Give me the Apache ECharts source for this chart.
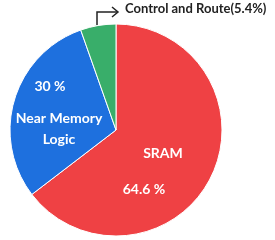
<!DOCTYPE html>
<html><head><meta charset="utf-8">
<script src="https://cdn.jsdelivr.net/npm/echarts@6/dist/echarts.min.js"></script>
<style>html,body{margin:0;padding:0;background:#fff}#c{width:275px;height:240px}</style>
</head><body><div id="c"></div>
<script>
const categories = ['SRAM', 'Near Memory Logic', 'Control and Route'];
const values = [64.6, 30, 5.4];
const colors = ['#EF4144', '#1E70DE', '#39AE6A'];

const chart = echarts.init(document.getElementById('c'), null, {renderer: 'canvas'});
const F = 'Lato, "Open Sans", sans-serif';
const txt = (x, y, s, size, fill) => ({type: 'text', x, y, style: {text: s, font: `bold ${size}px ${F}`, fill: fill || '#fff', textAlign: 'center', textVerticalAlign: 'middle'}, z: 10});
chart.setOption({
  animation: false,
  series: [{
    type: 'pie',
    center: [116, 130],
    radius: [0, 106],
    startAngle: 90,
    clockwise: true,
    label: {show: false},
    labelLine: {show: false},
    itemStyle: {borderColor: '#fff', borderWidth: 1},
    data: categories.map((n, i) => ({name: n, value: values[i], itemStyle: {color: colors[i]}}))
  }],
  graphic: [
    txt(50, 86, values[1] + ' %', 14),
    txt(59, 118, 'Near Memory', 14),
    txt(59, 139, 'Logic', 14),
    txt(163, 153, categories[0], 14),
    txt(144, 189, values[0] + ' %', 14),
    {type: 'text', x: 125, y: 9, style: {text: categories[2] + '(' + values[2] + '%)', font: `bold 13px ${F}`, fill: '#222', textAlign: 'left', textVerticalAlign: 'middle'}},
    {type: 'polyline', shape: {points: [[97, 25], [97, 12], [117, 12]]}, style: {stroke: '#222', lineWidth: 1.5, fill: null}},
    {type: 'polyline', shape: {points: [[112, 7], [118, 12], [112, 17]]}, style: {stroke: '#222', lineWidth: 1.5, fill: null}}
  ]
});
</script></body></html>
